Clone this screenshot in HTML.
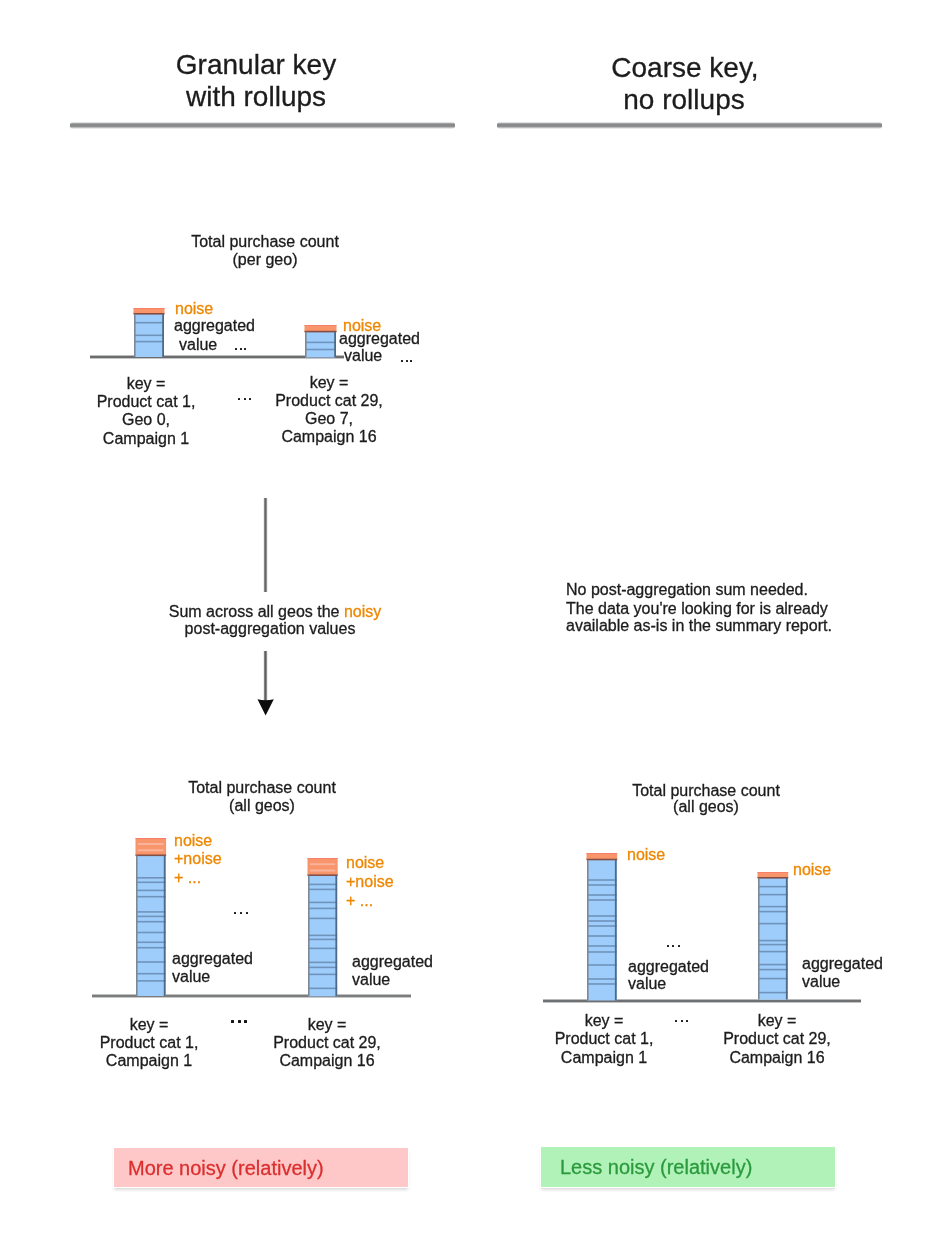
<!DOCTYPE html>
<html><head><meta charset="utf-8"><style>
html,body{margin:0;padding:0;background:#fff;}
body{width:949px;height:1249px;position:relative;overflow:hidden;font-family:"Liberation Sans",sans-serif;}
.t{position:absolute;white-space:pre;will-change:transform;-webkit-text-stroke:0.3px currentColor;}
.r{position:absolute;}
</style></head><body>
<div class="t" style="left:-44.4px;width:600px;text-align:center;top:48.8px;font-size:28px;line-height:32px;color:#1c1c1c;">Granular key</div>
<div class="t" style="left:-44.2px;width:600px;text-align:center;top:80.7px;font-size:28px;line-height:32px;color:#1c1c1c;">with rollups</div>
<div class="t" style="left:384.5px;width:600px;text-align:center;top:52.3px;font-size:28px;line-height:32px;color:#1c1c1c;">Coarse key,</div>
<div class="t" style="left:384.1px;width:600px;text-align:center;top:83.6px;font-size:28px;line-height:32px;color:#1c1c1c;">no rollups</div>
<div class="r" style="left:70px;top:121.5px;width:385px;height:7px;background:linear-gradient(to bottom, transparent 0%, #87898a 28%, #87898a 62%, transparent 100%);border-radius:3px"></div>
<div class="r" style="left:497px;top:121.5px;width:385px;height:7px;background:linear-gradient(to bottom, transparent 0%, #87898a 28%, #87898a 62%, transparent 100%);border-radius:3px"></div>
<div class="t" style="left:-35.0px;width:600px;text-align:center;top:231.5px;font-size:16px;line-height:20px;color:#1c1c1c;">Total purchase count</div>
<div class="t" style="left:-35.0px;width:600px;text-align:center;top:250.0px;font-size:16px;line-height:20px;color:#1c1c1c;">(per geo)</div>
<div class="r" style="left:90px;top:354.9px;width:253.5px;height:4.6px;background:linear-gradient(to bottom, transparent 0%, #6a6c6e 28%, #6a6c6e 68%, transparent 100%);"></div>
<svg class="r" style="left:131px;top:306px;overflow:visible" width="36" height="53" viewBox="131 306 36 53"><rect x="133.5" y="308" width="31" height="6" fill="#f8956b"/><rect x="133.5" y="308" width="31" height="1" fill="#f77a6a" opacity="0.8"/><rect x="134" y="314" width="30" height="43" fill="#9ecdfc"/><rect x="134" y="321.9" width="30" height="1.6" fill="#6f93ba"/><rect x="134" y="334.5" width="30" height="1.6" fill="#6f93ba"/><rect x="134" y="340.8" width="30" height="1.6" fill="#6f93ba"/><rect x="133.5" y="313" width="31" height="1.6" fill="#7a4238" opacity="0.9"/><rect x="134" y="314" width="1.6" height="43" fill="#7d8894"/><rect x="162.2" y="314" width="1.8" height="43" fill="#4c6b8a"/></svg>
<svg class="r" style="left:302px;top:322.5px;overflow:visible" width="37" height="36.5" viewBox="302 322.5 37 36.5"><rect x="304.5" y="324.5" width="32" height="6.800000000000011" fill="#f8956b"/><rect x="304.5" y="324.5" width="32" height="1" fill="#f77a6a" opacity="0.8"/><rect x="305" y="331.3" width="31" height="25.69999999999999" fill="#9ecdfc"/><rect x="305" y="341.09999999999997" width="31" height="1.6" fill="#6f93ba"/><rect x="305" y="348.2" width="31" height="1.6" fill="#6f93ba"/><rect x="304.5" y="330.3" width="32" height="1.6" fill="#7a4238" opacity="0.9"/><rect x="305" y="331.3" width="1.6" height="25.69999999999999" fill="#7d8894"/><rect x="334.2" y="331.3" width="1.8" height="25.69999999999999" fill="#4c6b8a"/></svg>
<div class="t" style="left:175.0px;top:298.6px;font-size:16px;line-height:20px;color:#ee8702;">noise</div>
<div class="t" style="left:174.0px;top:315.5px;font-size:16px;line-height:20px;color:#1c1c1c;">aggregated</div>
<div class="t" style="left:179.0px;top:334.6px;font-size:16px;line-height:20px;color:#1c1c1c;">value</div>
<div class="r" style="left:235px;top:348px;width:2.4px;height:2.4px;background:#151515;border-radius:0.4px;box-shadow:0 0 0.6px rgba(0,0,0,0.5)"></div>
<div class="r" style="left:240px;top:348px;width:2.4px;height:2.4px;background:#151515;border-radius:0.4px;box-shadow:0 0 0.6px rgba(0,0,0,0.5)"></div>
<div class="r" style="left:244px;top:348px;width:2.4px;height:2.4px;background:#151515;border-radius:0.4px;box-shadow:0 0 0.6px rgba(0,0,0,0.5)"></div>
<div class="t" style="left:343.0px;top:315.8px;font-size:16px;line-height:20px;color:#ee8702;">noise</div>
<div class="t" style="left:339.2px;top:328.7px;font-size:16px;line-height:20px;color:#1c1c1c;">aggregated</div>
<div class="t" style="left:343.8px;top:346.4px;font-size:16px;line-height:20px;color:#1c1c1c;">value</div>
<div class="r" style="left:401px;top:360px;width:2.4px;height:2.4px;background:#151515;border-radius:0.4px;box-shadow:0 0 0.6px rgba(0,0,0,0.5)"></div>
<div class="r" style="left:406px;top:360px;width:2.4px;height:2.4px;background:#151515;border-radius:0.4px;box-shadow:0 0 0.6px rgba(0,0,0,0.5)"></div>
<div class="r" style="left:410px;top:360px;width:2.4px;height:2.4px;background:#151515;border-radius:0.4px;box-shadow:0 0 0.6px rgba(0,0,0,0.5)"></div>
<div class="t" style="left:-154.2px;width:600px;text-align:center;top:373.8px;font-size:16px;line-height:20px;color:#1c1c1c;">key =</div>
<div class="t" style="left:-154.2px;width:600px;text-align:center;top:392.1px;font-size:16px;line-height:20px;color:#1c1c1c;">Product cat 1,</div>
<div class="t" style="left:-154.2px;width:600px;text-align:center;top:410.4px;font-size:16px;line-height:20px;color:#1c1c1c;">Geo 0,</div>
<div class="t" style="left:-154.2px;width:600px;text-align:center;top:428.7px;font-size:16px;line-height:20px;color:#1c1c1c;">Campaign 1</div>
<div class="t" style="left:28.6px;width:600px;text-align:center;top:372.7px;font-size:16px;line-height:20px;color:#1c1c1c;">key =</div>
<div class="t" style="left:28.6px;width:600px;text-align:center;top:390.9px;font-size:16px;line-height:20px;color:#1c1c1c;">Product cat 29,</div>
<div class="t" style="left:28.6px;width:600px;text-align:center;top:409.1px;font-size:16px;line-height:20px;color:#1c1c1c;">Geo 7,</div>
<div class="t" style="left:28.6px;width:600px;text-align:center;top:427.3px;font-size:16px;line-height:20px;color:#1c1c1c;">Campaign 16</div>
<div class="r" style="left:238px;top:398px;width:2.4px;height:2.4px;background:#151515;border-radius:0.4px;box-shadow:0 0 0.6px rgba(0,0,0,0.5)"></div>
<div class="r" style="left:244px;top:398px;width:2.4px;height:2.4px;background:#151515;border-radius:0.4px;box-shadow:0 0 0.6px rgba(0,0,0,0.5)"></div>
<div class="r" style="left:249px;top:398px;width:2.4px;height:2.4px;background:#151515;border-radius:0.4px;box-shadow:0 0 0.6px rgba(0,0,0,0.5)"></div>
<div class="r" style="left:263.4px;top:497.5px;width:5px;height:94.5px;background:linear-gradient(to right, transparent 0%, rgba(102,102,102,0.22) 20%, #646464 34%, #646464 64%, rgba(102,102,102,0.22) 80%, transparent 100%)"></div>
<div class="r" style="left:263.4px;top:651px;width:5px;height:51px;background:linear-gradient(to right, transparent 0%, rgba(102,102,102,0.22) 20%, #5c5c5c 34%, #5c5c5c 64%, rgba(102,102,102,0.22) 80%, transparent 100%)"></div>
<svg class="r" style="left:256px;top:697px" width="20" height="20" viewBox="256 697 20 20"><path d="M257.5 699.3 Q265.6 701.2 273.8 699.3 L265.6 715.6 Z" fill="#0c0c0c"/></svg>
<div class="t" style="left:-25.4px;width:600px;text-align:center;top:601.8px;font-size:16px;line-height:20px;color:#1c1c1c;">Sum across all geos the <span style="color:#ee8702">noisy</span></div>
<div class="t" style="left:-30.0px;width:600px;text-align:center;top:618.5px;font-size:16px;line-height:20px;color:#1c1c1c;">post-aggregation values</div>
<div class="t" style="left:566.0px;top:579.8px;font-size:16px;line-height:20px;color:#1c1c1c;">No post-aggregation sum needed.</div>
<div class="t" style="left:566.0px;top:598.6px;font-size:16px;line-height:20px;color:#1c1c1c;">The data you're looking for is already</div>
<div class="t" style="left:566.0px;top:616.0px;font-size:16px;line-height:20px;color:#1c1c1c;">available as-is in the summary report.</div>
<div class="t" style="left:-38.5px;width:600px;text-align:center;top:777.7px;font-size:16px;line-height:20px;color:#1c1c1c;">Total purchase count</div>
<div class="t" style="left:-38.5px;width:600px;text-align:center;top:796.0px;font-size:16px;line-height:20px;color:#1c1c1c;">(all geos)</div>
<div class="r" style="left:92px;top:993.7px;width:318.5px;height:4.6px;background:linear-gradient(to bottom, transparent 0%, #7a7c7d 26%, #7a7c7d 70%, transparent 100%);"></div>
<svg class="r" style="left:133px;top:836px;overflow:visible" width="35.599999999999994" height="162" viewBox="133 836 35.599999999999994 162"><rect x="135.5" y="838" width="30.599999999999994" height="17.5" fill="#f8956b"/><rect x="135.5" y="838" width="30.599999999999994" height="1" fill="#f77a6a" opacity="0.8"/><rect x="138" y="843" width="25.599999999999994" height="2" fill="#f9b39c"/><rect x="138" y="849.3" width="25.599999999999994" height="2" fill="#f9b39c"/><rect x="136" y="855.5" width="29.599999999999994" height="140.5" fill="#9ecdfc"/><rect x="136" y="877.0" width="29.599999999999994" height="1.6" fill="#6f93ba"/><rect x="136" y="881.5" width="29.599999999999994" height="1.6" fill="#6f93ba"/><rect x="136" y="889.6" width="29.599999999999994" height="1.6" fill="#6f93ba"/><rect x="136" y="895.9000000000001" width="29.599999999999994" height="1.6" fill="#6f93ba"/><rect x="136" y="911.1" width="29.599999999999994" height="1.6" fill="#6f93ba"/><rect x="136" y="915.6" width="29.599999999999994" height="1.6" fill="#6f93ba"/><rect x="136" y="920.9000000000001" width="29.599999999999994" height="1.6" fill="#6f93ba"/><rect x="136" y="931.7" width="29.599999999999994" height="1.6" fill="#6f93ba"/><rect x="136" y="941.5" width="29.599999999999994" height="1.6" fill="#6f93ba"/><rect x="136" y="946.9000000000001" width="29.599999999999994" height="1.6" fill="#6f93ba"/><rect x="136" y="961.2" width="29.599999999999994" height="1.6" fill="#6f93ba"/><rect x="136" y="972.9000000000001" width="29.599999999999994" height="1.6" fill="#6f93ba"/><rect x="136" y="980.1" width="29.599999999999994" height="1.6" fill="#6f93ba"/><rect x="135.5" y="854.5" width="30.599999999999994" height="1.6" fill="#7a4238" opacity="0.9"/><rect x="136" y="855.5" width="1.6" height="140.5" fill="#7d8894"/><rect x="163.79999999999998" y="855.5" width="1.8" height="140.5" fill="#4c6b8a"/></svg>
<svg class="r" style="left:304.5px;top:855.6px;overflow:visible" width="35.19999999999999" height="142.39999999999998" viewBox="304.5 855.6 35.19999999999999 142.39999999999998"><rect x="307.0" y="857.6" width="30.19999999999999" height="17.399999999999977" fill="#f8956b"/><rect x="307.0" y="857.6" width="30.19999999999999" height="1" fill="#f77a6a" opacity="0.8"/><rect x="309.5" y="862.8" width="25.19999999999999" height="2" fill="#f9b39c"/><rect x="309.5" y="869.1" width="25.19999999999999" height="2" fill="#f9b39c"/><rect x="307.5" y="875" width="29.19999999999999" height="121" fill="#9ecdfc"/><rect x="307.5" y="883.2" width="29.19999999999999" height="1.6" fill="#6f93ba"/><rect x="307.5" y="888.2" width="29.19999999999999" height="1.6" fill="#6f93ba"/><rect x="307.5" y="901.2" width="29.19999999999999" height="1.6" fill="#6f93ba"/><rect x="307.5" y="907.2" width="29.19999999999999" height="1.6" fill="#6f93ba"/><rect x="307.5" y="917.2" width="29.19999999999999" height="1.6" fill="#6f93ba"/><rect x="307.5" y="934.2" width="29.19999999999999" height="1.6" fill="#6f93ba"/><rect x="307.5" y="938.2" width="29.19999999999999" height="1.6" fill="#6f93ba"/><rect x="307.5" y="947.2" width="29.19999999999999" height="1.6" fill="#6f93ba"/><rect x="307.5" y="961.2" width="29.19999999999999" height="1.6" fill="#6f93ba"/><rect x="307.5" y="966.2" width="29.19999999999999" height="1.6" fill="#6f93ba"/><rect x="307.5" y="973.2" width="29.19999999999999" height="1.6" fill="#6f93ba"/><rect x="307.5" y="987.2" width="29.19999999999999" height="1.6" fill="#6f93ba"/><rect x="307.0" y="874" width="30.19999999999999" height="1.6" fill="#7a4238" opacity="0.9"/><rect x="307.5" y="875" width="1.6" height="121" fill="#7d8894"/><rect x="334.9" y="875" width="1.8" height="121" fill="#4c6b8a"/></svg>
<div class="t" style="left:173.7px;top:830.6px;font-size:16px;line-height:20px;color:#ee8702;">noise</div>
<div class="t" style="left:173.7px;top:848.5px;font-size:16px;line-height:20px;color:#ee8702;">+noise</div>
<div class="t" style="left:173.7px;top:868.2px;font-size:16px;line-height:20px;color:#ee8702;">+ ...</div>
<div class="r" style="left:234px;top:912px;width:2.4px;height:2.4px;background:#151515;border-radius:0.4px;box-shadow:0 0 0.6px rgba(0,0,0,0.5)"></div>
<div class="r" style="left:240px;top:912px;width:2.4px;height:2.4px;background:#151515;border-radius:0.4px;box-shadow:0 0 0.6px rgba(0,0,0,0.5)"></div>
<div class="r" style="left:246px;top:912px;width:2.4px;height:2.4px;background:#151515;border-radius:0.4px;box-shadow:0 0 0.6px rgba(0,0,0,0.5)"></div>
<div class="t" style="left:172.2px;top:948.8px;font-size:16px;line-height:20px;color:#1c1c1c;">aggregated</div>
<div class="t" style="left:172.2px;top:966.8px;font-size:16px;line-height:20px;color:#1c1c1c;">value</div>
<div class="t" style="left:346.1px;top:853.0px;font-size:16px;line-height:20px;color:#ee8702;">noise</div>
<div class="t" style="left:346.1px;top:872.2px;font-size:16px;line-height:20px;color:#ee8702;">+noise</div>
<div class="t" style="left:346.1px;top:890.6px;font-size:16px;line-height:20px;color:#ee8702;">+ ...</div>
<div class="t" style="left:352.1px;top:952.0px;font-size:16px;line-height:20px;color:#1c1c1c;">aggregated</div>
<div class="t" style="left:352.1px;top:970.0px;font-size:16px;line-height:20px;color:#1c1c1c;">value</div>
<div class="t" style="left:-151.4px;width:600px;text-align:center;top:1014.6px;font-size:16px;line-height:20px;color:#1c1c1c;">key =</div>
<div class="t" style="left:-151.4px;width:600px;text-align:center;top:1033.0px;font-size:16px;line-height:20px;color:#1c1c1c;">Product cat 1,</div>
<div class="t" style="left:-151.4px;width:600px;text-align:center;top:1051.4px;font-size:16px;line-height:20px;color:#1c1c1c;">Campaign 1</div>
<div class="t" style="left:27.0px;width:600px;text-align:center;top:1014.6px;font-size:16px;line-height:20px;color:#1c1c1c;">key =</div>
<div class="t" style="left:27.0px;width:600px;text-align:center;top:1033.0px;font-size:16px;line-height:20px;color:#1c1c1c;">Product cat 29,</div>
<div class="t" style="left:27.0px;width:600px;text-align:center;top:1051.4px;font-size:16px;line-height:20px;color:#1c1c1c;">Campaign 16</div>
<div class="r" style="left:231px;top:1020px;width:2.6px;height:2.6px;background:#151515;border-radius:0.4px;box-shadow:0 0 0.6px rgba(0,0,0,0.5)"></div>
<div class="r" style="left:238px;top:1020px;width:2.6px;height:2.6px;background:#151515;border-radius:0.4px;box-shadow:0 0 0.6px rgba(0,0,0,0.5)"></div>
<div class="r" style="left:244px;top:1020px;width:2.6px;height:2.6px;background:#151515;border-radius:0.4px;box-shadow:0 0 0.6px rgba(0,0,0,0.5)"></div>
<div class="t" style="left:406.0px;width:600px;text-align:center;top:780.6px;font-size:16px;line-height:20px;color:#1c1c1c;">Total purchase count</div>
<div class="t" style="left:406.0px;width:600px;text-align:center;top:797.0px;font-size:16px;line-height:20px;color:#1c1c1c;">(all geos)</div>
<div class="r" style="left:543px;top:998.5px;width:317.5px;height:4.6px;background:linear-gradient(to bottom, transparent 0%, #6e7072 26%, #6e7072 70%, transparent 100%);"></div>
<svg class="r" style="left:584px;top:851px;overflow:visible" width="35.700000000000045" height="151.5" viewBox="584 851 35.700000000000045 151.5"><rect x="586.5" y="853" width="30.700000000000045" height="6.7000000000000455" fill="#f8956b"/><rect x="586.5" y="853" width="30.700000000000045" height="1" fill="#f77a6a" opacity="0.8"/><rect x="587" y="859.7" width="29.700000000000045" height="140.79999999999995" fill="#9ecdfc"/><rect x="587" y="879.2" width="29.700000000000045" height="1.6" fill="#6f93ba"/><rect x="587" y="884.2" width="29.700000000000045" height="1.6" fill="#6f93ba"/><rect x="587" y="894.2" width="29.700000000000045" height="1.6" fill="#6f93ba"/><rect x="587" y="899.2" width="29.700000000000045" height="1.6" fill="#6f93ba"/><rect x="587" y="915.2" width="29.700000000000045" height="1.6" fill="#6f93ba"/><rect x="587" y="920.2" width="29.700000000000045" height="1.6" fill="#6f93ba"/><rect x="587" y="925.2" width="29.700000000000045" height="1.6" fill="#6f93ba"/><rect x="587" y="935.2" width="29.700000000000045" height="1.6" fill="#6f93ba"/><rect x="587" y="945.2" width="29.700000000000045" height="1.6" fill="#6f93ba"/><rect x="587" y="951.2" width="29.700000000000045" height="1.6" fill="#6f93ba"/><rect x="587" y="964.2" width="29.700000000000045" height="1.6" fill="#6f93ba"/><rect x="587" y="978.2" width="29.700000000000045" height="1.6" fill="#6f93ba"/><rect x="587" y="983.2" width="29.700000000000045" height="1.6" fill="#6f93ba"/><rect x="586.5" y="858.7" width="30.700000000000045" height="1.6" fill="#7a4238" opacity="0.9"/><rect x="587" y="859.7" width="1.6" height="140.79999999999995" fill="#7d8894"/><rect x="614.9000000000001" y="859.7" width="1.8" height="140.79999999999995" fill="#4c6b8a"/></svg>
<svg class="r" style="left:755px;top:870.4px;overflow:visible" width="35.700000000000045" height="131.60000000000002" viewBox="755 870.4 35.700000000000045 131.60000000000002"><rect x="757.5" y="872.4" width="30.700000000000045" height="6.0" fill="#f8956b"/><rect x="757.5" y="872.4" width="30.700000000000045" height="1" fill="#f77a6a" opacity="0.8"/><rect x="758" y="878.4" width="29.700000000000045" height="121.60000000000002" fill="#9ecdfc"/><rect x="758" y="886.2" width="29.700000000000045" height="1.6" fill="#6f93ba"/><rect x="758" y="894.2" width="29.700000000000045" height="1.6" fill="#6f93ba"/><rect x="758" y="906.2" width="29.700000000000045" height="1.6" fill="#6f93ba"/><rect x="758" y="911.2" width="29.700000000000045" height="1.6" fill="#6f93ba"/><rect x="758" y="923.2" width="29.700000000000045" height="1.6" fill="#6f93ba"/><rect x="758" y="940.2" width="29.700000000000045" height="1.6" fill="#6f93ba"/><rect x="758" y="944.2" width="29.700000000000045" height="1.6" fill="#6f93ba"/><rect x="758" y="951.2" width="29.700000000000045" height="1.6" fill="#6f93ba"/><rect x="758" y="964.2" width="29.700000000000045" height="1.6" fill="#6f93ba"/><rect x="758" y="969.2" width="29.700000000000045" height="1.6" fill="#6f93ba"/><rect x="758" y="978.2" width="29.700000000000045" height="1.6" fill="#6f93ba"/><rect x="758" y="992.2" width="29.700000000000045" height="1.6" fill="#6f93ba"/><rect x="757.5" y="877.4" width="30.700000000000045" height="1.6" fill="#7a4238" opacity="0.9"/><rect x="758" y="878.4" width="1.6" height="121.60000000000002" fill="#7d8894"/><rect x="785.9000000000001" y="878.4" width="1.8" height="121.60000000000002" fill="#4c6b8a"/></svg>
<div class="t" style="left:627.0px;top:845.0px;font-size:16px;line-height:20px;color:#ee8702;">noise</div>
<div class="r" style="left:667px;top:945px;width:2.4px;height:2.4px;background:#151515;border-radius:0.4px;box-shadow:0 0 0.6px rgba(0,0,0,0.5)"></div>
<div class="r" style="left:672px;top:945px;width:2.4px;height:2.4px;background:#151515;border-radius:0.4px;box-shadow:0 0 0.6px rgba(0,0,0,0.5)"></div>
<div class="r" style="left:678px;top:945px;width:2.4px;height:2.4px;background:#151515;border-radius:0.4px;box-shadow:0 0 0.6px rgba(0,0,0,0.5)"></div>
<div class="t" style="left:628.0px;top:956.8px;font-size:16px;line-height:20px;color:#1c1c1c;">aggregated</div>
<div class="t" style="left:628.0px;top:974.0px;font-size:16px;line-height:20px;color:#1c1c1c;">value</div>
<div class="t" style="left:792.5px;top:860.2px;font-size:16px;line-height:20px;color:#ee8702;">noise</div>
<div class="t" style="left:802.0px;top:954.0px;font-size:16px;line-height:20px;color:#1c1c1c;">aggregated</div>
<div class="t" style="left:802.0px;top:972.0px;font-size:16px;line-height:20px;color:#1c1c1c;">value</div>
<div class="t" style="left:304.0px;width:600px;text-align:center;top:1010.8px;font-size:16px;line-height:20px;color:#1c1c1c;">key =</div>
<div class="t" style="left:304.0px;width:600px;text-align:center;top:1029.2px;font-size:16px;line-height:20px;color:#1c1c1c;">Product cat 1,</div>
<div class="t" style="left:304.0px;width:600px;text-align:center;top:1047.7px;font-size:16px;line-height:20px;color:#1c1c1c;">Campaign 1</div>
<div class="t" style="left:477.0px;width:600px;text-align:center;top:1010.8px;font-size:16px;line-height:20px;color:#1c1c1c;">key =</div>
<div class="t" style="left:477.0px;width:600px;text-align:center;top:1029.2px;font-size:16px;line-height:20px;color:#1c1c1c;">Product cat 29,</div>
<div class="t" style="left:477.0px;width:600px;text-align:center;top:1047.7px;font-size:16px;line-height:20px;color:#1c1c1c;">Campaign 16</div>
<div class="r" style="left:675px;top:1020px;width:2.4px;height:2.4px;background:#151515;border-radius:0.4px;box-shadow:0 0 0.6px rgba(0,0,0,0.5)"></div>
<div class="r" style="left:681px;top:1020px;width:2.4px;height:2.4px;background:#151515;border-radius:0.4px;box-shadow:0 0 0.6px rgba(0,0,0,0.5)"></div>
<div class="r" style="left:686px;top:1020px;width:2.4px;height:2.4px;background:#151515;border-radius:0.4px;box-shadow:0 0 0.6px rgba(0,0,0,0.5)"></div>
<div class="r" style="left:113px;top:1146.6px;width:296px;height:41.2px;background:#fff;box-shadow:0 3px 3px -1px rgba(0,0,0,0.14)"></div>
<div class="r" style="left:114px;top:1147.6px;width:294px;height:39.2px;background:#fec8c8"></div>
<div class="t" style="left:128.3px;top:1155.6px;font-size:20px;line-height:24px;color:#db2f2f;">More noisy (relatively)</div>
<div class="r" style="left:540px;top:1146px;width:296px;height:41.8px;background:#fff;box-shadow:0 3px 3px -1px rgba(0,0,0,0.14)"></div>
<div class="r" style="left:541px;top:1147px;width:294px;height:39.8px;background:#b1f2b9"></div>
<div class="t" style="left:559.8px;top:1154.6px;font-size:20px;line-height:24px;color:#2b9a3c;">Less noisy (relatively)</div>
</body></html>
